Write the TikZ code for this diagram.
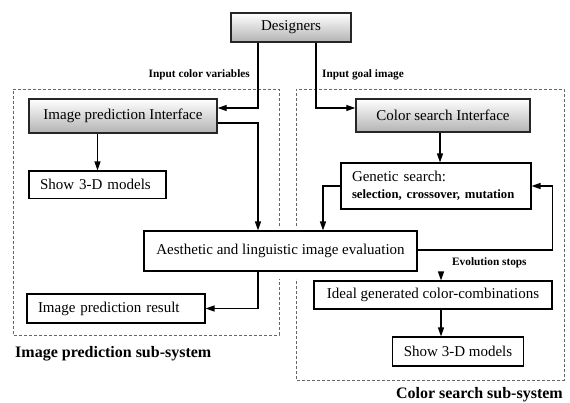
\documentclass[tikz,border=0pt]{standalone}
\usepackage{fontspec}
\setmainfont{Liberation Serif}
\usetikzlibrary{arrows.meta,calc}
\begin{document}
\begin{tikzpicture}[x=1pt,y=1pt,
  box/.style={draw=black, line width=1.1pt, fill=white, inner sep=0pt, font=\fontsize{15}{18}\selectfont},
  gbox/.style={box, line width=1.4pt, draw=black!85, top color=white, bottom color=black!30},
  lbox/.style={box, align=left, inner xsep=11pt},
  arr/.style={line width=1.2pt, -{Triangle[length=9pt,width=6pt]}},
  dbox/.style={dash pattern=on 3pt off 2pt, draw=black!60, line width=0.7pt},
  lab/.style={inner sep=0pt, font=\bfseries\fontsize{11.3}{13}\selectfont},
  subsys/.style={inner sep=0pt, font=\bfseries\fontsize{16}{19}\selectfont}
]
\useasboundingbox (0,0) rectangle (570,-403);

% dashed sub-system frames
\draw[dbox] (279,-226) -- (279,-89) -- (13,-89) -- (13,-335) -- (279,-335) -- (279,-279);
\draw[dbox] (296,-226) -- (296,-89) -- (564,-89) -- (564,-380) -- (296,-380) -- (296,-279);

% nodes
\node[gbox, minimum width=120pt, minimum height=29pt] (des) at (291,-27.5) {Designers};
\node[gbox, minimum width=188pt, minimum height=34pt] (ipi) at (123,-116) {Image prediction Interface};
\node[gbox, minimum width=174pt, minimum height=33pt] (csi) at (443,-115.5) {Color search Interface};
\node[lbox, text width=115pt, minimum height=27.5pt] (s3l) at (97.5,-184.75) {Show 3-D models};
\node[box, minimum width=273pt, minimum height=40pt] (aes) at (280.5,-251) {Aesthetic and linguistic image evaluation};
\node[lbox, text width=168pt, minimum height=46pt] (gen) at (436,-186)
  {Genetic search:\\[-1pt]{\bfseries\fontsize{12.7}{15}\selectfont selection, crossover, mutation}};
\node[lbox, text width=156pt, minimum height=29pt] (ipr) at (116,-308.5) {Image prediction result};
\node[box, minimum width=238pt, minimum height=28pt] (ide) at (433,-295) {Ideal generated color-combinations};
\node[box, minimum width=131pt, minimum height=29pt] (s3r) at (458,-351.5) {Show 3-D models};

% helper x positions
\coordinate (xL) at (258,0);
\coordinate (xR) at (316,0);
\coordinate (xC) at (440,0);
\coordinate (xG) at (323,0);
\coordinate (xE) at (441,0);

% connectors
\draw[arr] (des.south -| xL) |- ([yshift=8pt]ipi.east);
\draw[arr] (des.south -| xR) |- ([yshift=7.5pt]csi.west);
\draw[arr] ([yshift=-7pt]ipi.east) -| (aes.north -| xL);
\draw[arr] (ipi.south -| s3l.north) -- (s3l.north);
\draw[arr] (csi.south -| xC) -- (gen.north -| xC);
\draw[arr] (gen.west) -| (aes.north -| xG);
\draw[arr] ([yshift=1pt]aes.east) -| ([xshift=21pt]gen.east) -- (gen.east);
\draw[arr] (aes.south -| xE) -- (ide.north -| xE);
\draw[arr] (ide.south -| xE) -- (s3r.north -| xE);
\draw[arr] (aes.south -| xL) |- (ipr.east);

% labels
\node[lab, anchor=east] (lcv) at (250,-75) {Input color variables};
\node[lab, anchor=west] (lgi) at (322,-75) {Input goal image};
\node[lab, anchor=west] (les) at (452,-263) {Evolution stops};
\node[subsys, anchor=west] (lips) at (15,-354) {Image prediction sub-system};
\node[subsys, anchor=east] (lcss) at (563,-395) {Color search sub-system};
\end{tikzpicture}
\end{document}
